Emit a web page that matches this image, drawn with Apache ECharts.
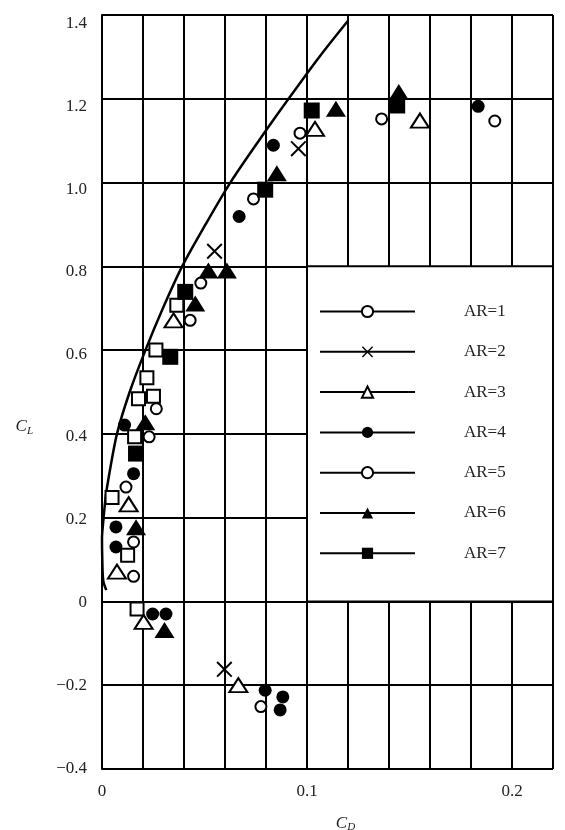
<!DOCTYPE html>
<html><head><meta charset="utf-8">
<script src="https://cdn.jsdelivr.net/npm/echarts@6/dist/echarts.min.js"></script>
<style>html,body{margin:0;padding:0;background:#fff}#c{width:565px;height:830px}</style>
</head><body><div id="c"></div>
<script>
// ---- data ----
const xLabelTicks = [0, 0.1, 0.2];
const yLabelTicks = [-0.4, -0.2, 0, 0.2, 0.4, 0.6, 0.8, 1.0, 1.2, 1.4];
const legendNames = ['AR=1', 'AR=2', 'AR=3', 'AR=4', 'AR=5', 'AR=6', 'AR=7'];

const curve = [[0.0021,0.027],[0.0006,0.05],[0.0001,0.11],[0.0000,0.15],[0.0008,0.2],[0.0018,0.25],
  [0.0034,0.3],[0.0073,0.4],[0.0135,0.5],[0.0212,0.6],[0.0297,0.7],[0.0391,0.8],[0.0505,0.9],
  [0.0626,1.0],[0.0765,1.1],[0.0910,1.2],[0.106,1.3],[0.1201,1.387]];

const ar1 = [[0.0154,0.060],[0.0154,0.142],[0.0117,0.273],[0.0230,0.393],[0.0265,0.460],[0.0430,0.671],[0.0775,-0.251]];
const ar2 = [[0.0549,0.836],[0.0958,1.081],[0.0597,-0.162]];
const ar3 = [[0.0073,0.071],[0.0130,0.232],[0.0349,0.671],[0.1039,1.128],[0.1551,1.148],[0.0203,-0.049],[0.0665,-0.200]];
const ar4 = [[0.0068,0.130],[0.0068,0.178],[0.0154,0.305],[0.0110,0.421],[0.0669,0.919],[0.0836,1.089],[0.1835,1.182],
  [0.0247,-0.030],[0.0312,-0.030],[0.0796,-0.212],[0.0882,-0.228],[0.0869,-0.259]];
const ar5 = [[0.0482,0.760],[0.0739,0.961],[0.0966,1.118],[0.1364,1.152],[0.1916,1.147]];
const ar6 = [[0.0166,0.177],[0.0211,0.428],[0.0455,0.711],[0.0519,0.790],[0.0609,0.790],[0.0853,1.022],[0.1141,1.176],[0.1448,1.216],[0.0305,-0.068]];
const ar7 = [[0.0166,0.353],[0.0333,0.584],[0.0406,0.739],[0.0796,0.983],[0.1023,1.172],[0.1440,1.184]];
const openSquares = [[0.0049,0.248],[0.0125,0.110],[0.0171,-0.018],[0.0159,0.393],[0.0178,0.484],[0.0251,0.490],[0.0219,0.534],[0.0263,0.600],[0.0365,0.707]];

// ---- styles ----
const FONT = 'Liberation Serif';
const TXT = '#222';
const crossPath = 'path://M0,1.4L1.4,0L16,14.6L14.6,16Z M14.6,0L16,1.4L1.4,16L0,14.6Z';
// downward nudge (px) of each y tick label, as typeset in the original figure
const yLabelNudge = { '1.4': 9, '1.2': 8, '1': 7, '0.8': 5, '0.6': 4, '0.4': 3, '0.2': 2, '0': 1 };
const nudgeRich = {};
for (let k = 0; k <= 9; k++) {
  nudgeRich['n' + k] = { fontFamily: FONT, fontSize: 17, color: TXT, padding: [2 * k, 0, 0, 0] };
}

function pts(name, data, symbol, size, filled) {
  return {
    name: name, type: 'line', data: data,
    symbol: symbol, symbolSize: size, showSymbol: true, showAllSymbol: true,
    lineStyle: { width: 0, opacity: 0 },
    itemStyle: filled ? { color: '#000', borderWidth: 0 } : { color: '#fff', borderColor: '#000', borderWidth: 2 },
    emphasis: { disabled: true },
    z: 3
  };
}

const chart = echarts.init(document.getElementById('c'), null, { renderer: 'canvas' });
chart.setOption({
  backgroundColor: '#fff',
  animation: false,
  grid: { left: 102, right: 12, top: 15, bottom: 61, containLabel: false, outerBoundsMode: 'none' },
  legend: {
    data: legendNames, orient: 'vertical', left: 319, top: 303, padding: 0,
    itemWidth: 95, itemHeight: 14, itemGap: 23.3,
    lineStyle: { color: '#000', width: 2, opacity: 1, type: 'solid' },
    textStyle: { fontFamily: FONT, fontSize: 17, color: TXT, padding: [0, 0, 0, 44] },
    selectedMode: false, z: 10
  },
  xAxis: {
    type: 'value', min: 0, max: 0.22, interval: 0.02,
    name: '{c|C}{s|D}', nameLocation: 'middle', nameGap: 45,
    nameTextStyle: { padding: [0, 0, 0, 36], rich: {
      c: { fontFamily: FONT, fontStyle: 'italic', fontSize: 17, color: TXT },
      s: { fontFamily: FONT, fontStyle: 'italic', fontSize: 11, color: TXT, verticalAlign: 'bottom', padding: [8, 0, 0, 0] } } },
    axisLine: { show: true, lineStyle: { color: '#000', width: 2 } },
    axisTick: { show: false },
    splitLine: { show: true, lineStyle: { color: '#000', width: 2 } },
    axisLabel: {
      fontFamily: FONT, fontSize: 17, color: TXT, margin: 14,
      formatter: function (v) {
        const hit = xLabelTicks.find(t => Math.abs(t - v) < 1e-9);
        if (hit === undefined) return '';
        return hit === 0 ? '0' : hit.toFixed(1);
      }
    }
  },
  yAxis: {
    type: 'value', min: -0.4, max: 1.4, interval: 0.2,
    name: '{c|C}{s|L}', nameLocation: 'middle', nameRotate: 0, nameGap: 69,
    nameTextStyle: { padding: [70, 0, 0, 0], rich: {
      c: { fontFamily: FONT, fontStyle: 'italic', fontSize: 17, color: TXT },
      s: { fontFamily: FONT, fontStyle: 'italic', fontSize: 11, color: TXT, verticalAlign: 'bottom', padding: [8, 0, 0, 0] } } },
    axisLine: { show: true, lineStyle: { color: '#000', width: 2 } },
    axisTick: { show: false },
    splitLine: { show: true, lineStyle: { color: '#000', width: 2 } },
    axisLabel: {
      fontFamily: FONT, fontSize: 17, color: TXT, margin: 15, rich: nudgeRich,
      formatter: function (v) {
        const hit = yLabelTicks.find(t => Math.abs(t - v) < 1e-9);
        if (hit === undefined) return '';
        const txt = hit === 0 ? '0' : (hit < 0 ? '\u2212' : '') + Math.abs(hit).toFixed(1);
        const k = yLabelNudge[String(Math.round(hit * 10) / 10)] || 0;
        return '{n' + k + '|' + txt + '}';
      }
    }
  },
  series: [
    {
      type: 'line', data: curve, smooth: 0.3, symbol: 'none',
      lineStyle: { color: '#000', width: 2.5 }, z: 2, silent: true,
      markArea: {
        silent: true, label: { show: false },
        itemStyle: { color: '#fff', borderColor: '#000', borderWidth: 2, opacity: 1 },
        data: [[{ coord: [0.1, 0] }, { coord: [0.22, 0.8] }]]
      }
    },
    pts('', openSquares, 'rect', 13, false),
    pts(legendNames[0], ar1, 'circle', 11, false),
    pts(legendNames[1], ar2, crossPath, 16, true),
    pts(legendNames[2], ar3, 'triangle', [18, 14], false),
    pts(legendNames[3], ar4, 'circle', 13, true),
    pts(legendNames[4], ar5, 'circle', 11, false),
    pts(legendNames[5], ar6, 'triangle', [20, 16], true),
    pts(legendNames[6], ar7, 'rect', 16, true)
  ]
});
</script>
</body></html>
